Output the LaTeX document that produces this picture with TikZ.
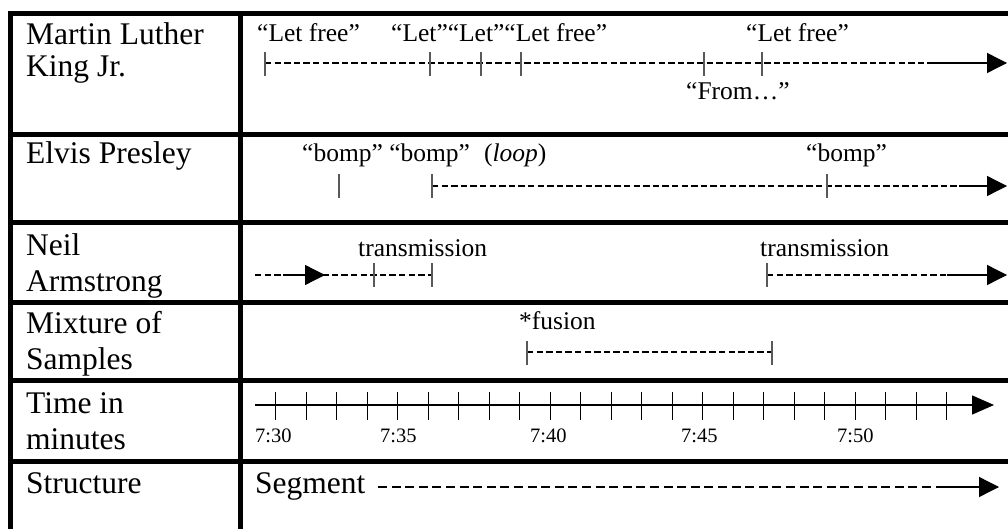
\documentclass[tikz,border=0pt]{standalone}
\usepackage{fontspec}
\setmainfont{Liberation Serif}
\usetikzlibrary{arrows.meta}

\begin{document}
\begin{tikzpicture}[x=1pt,y=-1pt,
  gridline/.style={line width=5pt},
  lbl/.style={anchor=base west,inner sep=0pt,font=\fontsize{31.5}{36}\selectfont},
  cue/.style={anchor=base west,inner sep=0pt,font=\fontsize{25.5}{30}\selectfont},
  tlabel/.style={anchor=base west,inner sep=0pt,font=\fontsize{20.5}{24}\selectfont},
  dashline/.style={line width=1.3pt,dash pattern=on 6.4pt off 3.2pt},
  bigdash/.style={line width=1.8pt,dash pattern=on 9pt off 4.6pt},
  segbar/.style={line width=1.1pt,draw=black!65},
  arrowrun/.style={line width=1.3pt,-{Triangle[length=20pt,width=20pt]}},
  axistick/.style={line width=1.2pt},
]
\useasboundingbox (0,0) rectangle (1008,529);

% table grid
\draw[gridline] (10,529) -- (10,14) -- (1008,14);
\draw[gridline] (240.5,14) -- (240.5,529);
\foreach \y in {135,222.5,302.5,380.5,461}
  \draw[gridline] (10,\y) -- (1008,\y);

% row headings
\node[lbl] (mlk1)   at (26,45)  {Martin Luther};
\node[lbl] (mlk2)   at (26,77)  {King Jr.};
\node[lbl] (elvis)  at (26,164) {Elvis Presley};
\node[lbl] (neil1)  at (26,255) {Neil};
\node[lbl] (neil2)  at (26,291) {Armstrong};
\node[lbl] (mix1)   at (26,333) {Mixture of};
\node[lbl] (mix2)   at (26,369) {Samples};
\node[lbl] (time1)  at (26,413) {Time in};
\node[lbl] (time2)  at (26,449) {minutes};
\node[lbl] (struct) at (26,493) {Structure};

% --- Martin Luther King Jr.
\node[cue] (let1) at (257,42) {“Let free”};
\node[cue] (let2) at (391,42) {“Let”“Let”“Let free”};
\node[cue] (let3) at (746,42) {“Let free”};
\node[cue] (from) at (686,100) {“From…”};
\coordinate (k0) at (265,63);
\coordinate (kend) at (1007,63);
\draw[dashline] (k0) -- (990,63);
\draw[arrowrun] (927,63) -- (kend);
\foreach \x in {265,430,481,521,704,762}
  \draw[segbar] (\x,52) -- (\x,76);

% --- Elvis Presley
\node[cue] (bomp1) at (302,162) {“bomp” “bomp”\hspace{14pt}(\textit{loop})};
\node[cue] (bomp2) at (806,162) {“bomp”};
\coordinate (e0) at (432,186);
\coordinate (eend) at (1007,186);
\draw[dashline] (e0) -- (988,186);
\draw[arrowrun] (959,186) -- (eend);
\foreach \x in {339,432,827}
  \draw[segbar] (\x,174) -- (\x,198);

% --- Neil Armstrong
\node[cue] (tx1) at (358,256) {transmission};
\node[cue] (tx2) at (760,256) {transmission};
\coordinate (n0) at (255,275);
\coordinate (n1) at (432,275);
\draw[dashline] (n0) -- (n1);
\draw[arrowrun] (283,275) -- (325,275);
\foreach \x in {374,432}
  \draw[segbar] (\x,263) -- (\x,287);
\coordinate (n2) at (767,275);
\coordinate (nend) at (1007,275);
\draw[dashline] (n2) -- (988,275);
\draw[arrowrun] (947,275) -- (nend);
\draw[segbar] (767,263) -- (767,287);

% --- Mixture of Samples
\node[cue] (fusion) at (519,329) {*fusion};
\coordinate (f0) at (527,352);
\coordinate (f1) at (772,352);
\draw[dashline] (f0) -- (f1);
\foreach \x in {527,772}
  \draw[segbar] (\x,341) -- (\x,365);

% --- time axis
\coordinate (a0) at (255,405);
\coordinate (aend) at (994,405);
\draw[line width=1.5pt,-{Triangle[length=22pt,width=19pt]}] (a0) -- (aend);
\foreach \i in {0,...,22}
  \draw[axistick] (275.7+30.5*\i,392) -- (275.7+30.5*\i,420);
\node[tlabel] (m30) at (255,442) {7:30};
\node[tlabel] (m35) at (380,442) {7:35};
\node[tlabel] (m40) at (530,442) {7:40};
\node[tlabel] (m45) at (681,442) {7:45};
\node[tlabel] (m50) at (837,442) {7:50};

% --- structure
\node[lbl] (seg) at (255,493) {Segment};
\coordinate (s0) at (378,487);
\coordinate (send) at (999,487);
\draw[bigdash] (s0) -- (964,487);
\draw[arrowrun] (941,487) -- (send);
\end{tikzpicture}
\end{document}
